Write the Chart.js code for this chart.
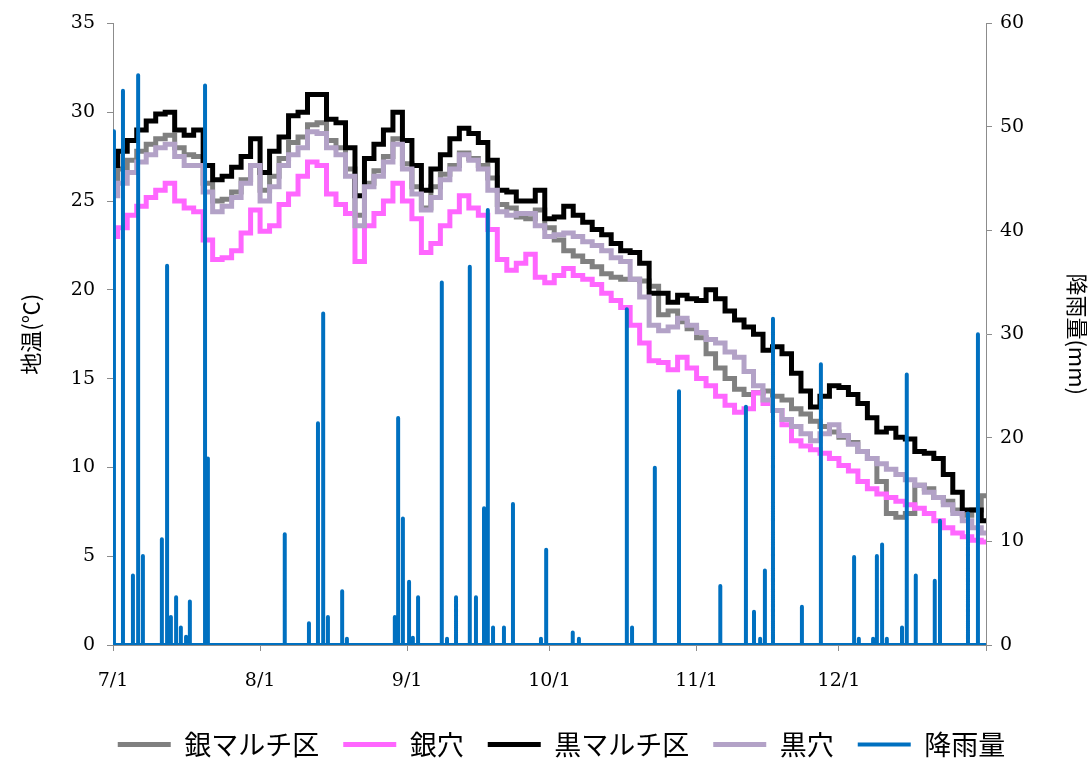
<!DOCTYPE html>
<html>
<head>
<meta charset="utf-8">
<script src="https://cdn.jsdelivr.net/npm/chart.js@4.4.1/dist/chart.umd.min.js"></script>
<style>
  html, body { margin: 0; padding: 0; background: #fff; }
  #wrap { width: 1091px; height: 763px; }
</style>
</head>
<body>
<div id="wrap"><canvas id="myChart" width="1091" height="763"></canvas></div>
<script>
// days since 7/1, sampled every 2 days
const sampleDays = [
  0, 2, 4, 6, 8, 10, 12, 14, 16, 18,
  20, 22, 24, 26, 28, 30, 32, 34, 36, 38,
  40, 42, 44, 46, 48, 50, 52, 54, 56, 58,
  60, 62, 64, 66, 68, 70, 72, 74, 76, 78,
  80, 82, 84, 86, 88, 90, 92, 94, 96, 98,
  100, 102, 104, 106, 108, 110, 112, 114, 116, 118,
  120, 122, 124, 126, 128, 130, 132, 134, 136, 138,
  140, 142, 144, 146, 148, 150, 152, 154, 156, 158,
  160, 162, 164, 166, 168, 170, 172, 174, 176, 178,
  180, 182, 184,
];

// 銀マルチ区
const ginMulch = [
  26.2, 26.8, 27.3, 27.8, 28.2, 28.5, 28.7, 28.0, 27.6, 27.5,
  26.0, 25.0, 25.1, 25.5, 26.2, 27.0, 25.6, 26.4, 27.4, 28.3,
  28.6, 29.3, 29.4, 28.4, 28.0, 26.8, 24.2, 26.0, 26.7, 27.5,
  28.5, 27.1, 25.8, 24.6, 25.8, 26.5, 27.0, 27.7, 27.4, 27.0,
  26.3, 24.8, 24.6, 24.1, 24.0, 24.5, 23.5, 22.8, 22.2, 21.9,
  21.6, 21.3, 20.9, 20.7, 20.6, 20.6, 20.5, 20.2, 18.6, 18.8,
  18.2, 17.8, 17.3, 16.4, 15.6, 15.0, 14.4, 14.1, 14.2, 14.3,
  14.0, 13.8, 13.3, 13.0, 12.6, 12.3, 12.0, 11.7, 11.4, 10.9,
  10.5, 9.2, 7.4, 7.2, 7.4, 9.0, 8.8, 8.3, 8.1, 7.6,
  7.3, 7.6, 8.4,
];

// 銀穴
const ginAna = [
  23.0, 23.5, 24.2, 24.7, 25.2, 25.6, 26.0, 25.0, 24.6, 24.4,
  22.8, 21.7, 21.8, 22.2, 23.2, 24.5, 23.3, 23.6, 24.8, 25.4,
  26.4, 27.2, 27.0, 25.4, 24.8, 24.3, 21.6, 23.6, 24.3, 25.0,
  26.0, 25.0, 24.0, 22.1, 22.6, 23.6, 24.4, 25.3, 24.6, 24.2,
  23.4, 21.7, 21.1, 21.5, 22.0, 20.7, 20.4, 20.8, 21.2, 20.8,
  20.6, 20.3, 19.8, 19.4, 19.0, 18.0, 17.0, 16.0, 15.9, 15.5,
  16.2, 15.6, 15.0, 14.6, 14.0, 13.5, 13.1, 13.3, 14.2, 13.6,
  13.2, 12.4, 11.5, 11.2, 11.0, 10.8, 10.5, 10.1, 9.8, 9.2,
  8.8, 8.5, 8.3, 8.1, 7.9, 7.7, 7.4, 7.0, 6.6, 6.3,
  6.1, 5.9, 5.8,
];

// 黒マルチ区
const kuroMulch = [
  27.0, 27.8, 28.4, 29.0, 29.5, 29.9, 30.0, 29.0, 28.7, 29.0,
  27.0, 26.2, 26.4, 26.9, 27.5, 28.5, 26.6, 27.8, 28.6, 29.8,
  30.0, 31.0, 31.0, 29.6, 29.4, 28.0, 25.3, 27.4, 28.2, 29.0,
  30.0, 28.4, 27.0, 25.6, 26.8, 27.6, 28.5, 29.1, 28.8, 28.3,
  27.3, 25.6, 25.5, 25.0, 25.0, 25.6, 24.0, 24.1, 24.7, 24.2,
  23.8, 23.4, 23.1, 22.6, 22.2, 22.1, 21.5, 19.8, 19.8, 19.3,
  19.7, 19.5, 19.4, 20.0, 19.5, 18.8, 18.3, 17.9, 17.5, 16.6,
  16.8, 16.4, 15.3, 14.3, 13.4, 14.0, 14.6, 14.5, 14.1, 13.6,
  12.8, 12.0, 12.2, 11.7, 11.6, 10.9, 10.8, 10.5, 9.6, 8.6,
  7.6, 7.6, 7.0,
];

// 黒穴
const kuroAna = [
  25.3, 26.0, 26.6, 27.2, 27.6, 28.0, 28.2, 27.5, 27.0, 27.0,
  25.5, 24.4, 24.7, 25.2, 26.0, 27.0, 25.0, 25.8, 27.0, 27.6,
  28.0, 28.9, 28.8, 28.0, 27.6, 26.4, 23.6, 25.8, 26.4, 27.2,
  28.2, 26.8, 25.4, 24.5, 25.2, 26.2, 26.8, 27.6, 27.3, 26.8,
  25.6, 24.4, 24.2, 24.3, 24.3, 23.6, 23.0, 23.1, 23.2, 23.0,
  22.7, 22.5, 22.2, 21.8, 21.6, 20.6, 19.6, 18.0, 17.7, 17.9,
  18.4, 18.0, 17.6, 17.2, 17.0, 16.5, 16.2, 15.4, 14.6, 13.8,
  13.2, 12.7, 12.3, 11.9, 11.5, 11.9, 12.4, 11.8, 11.3, 10.9,
  10.5, 10.2, 9.9, 9.6, 9.3, 9.0, 8.6, 8.3, 7.9, 7.4,
  7.0, 6.6, 6.3,
];

// 降雨量 (mm) — day of the rain and amount
const rainDay = [
  0.2, 2.1, 4.2, 5.3, 6.3, 10.3, 11.4, 12.2, 13.3, 14.3,
  15.4, 16.2, 19.4, 20.0, 36.2, 41.3, 43.2, 44.3, 45.3, 48.3,
  49.3, 59.4, 60.1, 61.1, 62.4, 63.2, 64.3, 69.3, 70.4, 72.3,
  75.2, 76.5, 78.2, 79.0, 80.1, 82.4, 84.3, 90.2, 91.3, 96.9,
  98.2, 108.3, 109.4, 114.2, 119.3, 128.0, 133.4, 135.1, 136.4, 137.4,
  139.1, 145.2, 149.2, 156.2, 157.2, 160.2, 161.0, 162.1, 163.1, 166.3,
  167.3, 169.2, 173.2, 174.3, 180.2, 182.3,
];
const rainMm = [
  49.6, 53.5, 6.7, 55.0, 8.6, 10.2, 36.6, 2.7, 4.6, 1.7,
  0.8, 4.2, 54.0, 18.0, 10.7, 2.1, 21.4, 32.0, 2.7, 5.2,
  0.6, 2.7, 21.9, 12.2, 6.1, 0.7, 4.6, 35.0, 0.6, 4.6,
  36.5, 4.6, 13.2, 42.0, 1.7, 1.7, 13.6, 0.6, 9.2, 1.2,
  0.6, 32.4, 1.7, 17.1, 24.5, 5.7, 23.0, 3.2, 0.6, 7.2,
  31.5, 3.7, 27.1, 8.5, 0.6, 0.6, 8.6, 9.7, 0.6, 1.7,
  26.1, 6.7, 6.2, 12.0, 12.7, 30.0,
];

const tickDays = [0, 31, 62, 92, 123, 153, 184];
const tickLabels = ["7/1", "8/1", "9/1", "10/1", "11/1", "12/1", ""];

const toPoints = (vals) => vals.map((v, i) => ({ x: sampleDays[i], y: v }));

// rain as thin spikes up from the zero line
const rainPoints = [{ x: 0, y: 0 }];
rainDay.forEach((d, i) => {
  rainPoints.push({ x: d, y: 0 }, { x: d, y: rainMm[i] }, { x: d, y: 0 });
});
rainPoints.push({ x: 184, y: 0 });

const axisColor = "#8c8c8c";
const tickFont = { family: "'DejaVu Serif', 'Liberation Serif', serif", size: 19 };
const jpFont = "'Noto Sans CJK JP', 'Noto Sans', sans-serif";

const lineStyle = (color) => ({
  borderColor: color,
  backgroundColor: color,
  borderWidth: 5,
  pointRadius: 0,
  stepped: "middle",
  fill: false,
  yAxisID: "y",
});

const ctx = document.getElementById("myChart").getContext("2d");
new Chart(ctx, {
  type: "line",
  data: {
    datasets: [
      { label: "銀マルチ区", data: toPoints(ginMulch), ...lineStyle("#808080"), order: 4 },
      { label: "銀穴", data: toPoints(ginAna), ...lineStyle("#ff66ff"), order: 3 },
      { label: "黒マルチ区", data: toPoints(kuroMulch), ...lineStyle("#000000"), order: 2 },
      { label: "黒穴", data: toPoints(kuroAna), ...lineStyle("#b3a2c7"), order: 1 },
      {
        label: "降雨量",
        data: rainPoints,
        borderColor: "#0070c0",
        backgroundColor: "#0070c0",
        borderWidth: 4,
        borderJoinStyle: "round",
        borderCapStyle: "round",
        pointRadius: 0,
        fill: false,
        yAxisID: "y1",
        order: 0,
      },
    ],
  },
  options: {
    responsive: false,
    animation: false,
    layout: { padding: { top: 20, left: 32, right: 0, bottom: -5 } },
    plugins: {
      tooltip: { enabled: false },
      legend: {
        position: "bottom",
        labels: {
          usePointStyle: true,
          pointStyle: "line",
          pointStyleWidth: 53,
          padding: 24,
          color: "#000",
          font: { family: jpFont, size: 27 },
          sort: (a, b) => a.datasetIndex - b.datasetIndex,
        },
      },
    },
    scales: {
      x: {
        type: "linear",
        min: 0,
        max: 184,
        afterBuildTicks: (scale) => {
          scale.ticks = tickDays.map((v) => ({ value: v }));
        },
        afterFit: (scale) => {
          scale.height = 62;
        },
        ticks: {
          autoSkip: false,
          maxRotation: 0,
          padding: 19,
          color: "#000",
          font: tickFont,
          callback: (v) => tickLabels[tickDays.indexOf(v)],
        },
        grid: { drawOnChartArea: false, tickLength: 6, color: axisColor },
        border: { color: axisColor, width: 1 },
      },
      y: {
        position: "left",
        min: 0,
        max: 35,
        afterFit: (scale) => {
          scale.width = 81;
        },
        ticks: { stepSize: 5, padding: 12, color: "#000", font: tickFont },
        grid: { drawOnChartArea: false, tickLength: 6, color: axisColor },
        border: { color: axisColor, width: 1 },
        title: {
          display: true,
          text: "地温(℃)",
          color: "#000",
          font: { family: jpFont, size: 22 },
          padding: { top: -15, bottom: 0 },
        },
      },
      y1: {
        position: "right",
        min: 0,
        max: 60,
        afterFit: (scale) => {
          scale.width = 105;
        },
        ticks: { stepSize: 10, padding: 8, color: "#000", font: tickFont },
        grid: { drawOnChartArea: false, tickLength: 6, color: axisColor },
        border: { color: axisColor, width: 1 },
        title: {
          display: true,
          text: "降雨量(mm)",
          color: "#000",
          font: { family: jpFont, size: 22 },
          padding: { top: 0, bottom: 4 },
        },
      },
    },
  },
});
</script>
</body>
</html>
